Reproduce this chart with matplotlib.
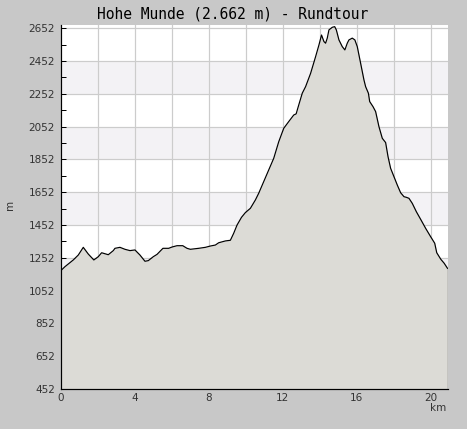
import matplotlib
matplotlib.use("Agg")
import matplotlib.pyplot as plt
from matplotlib.ticker import MultipleLocator, FixedLocator

title = "Hohe Munde (2.662 m) - Rundtour"
dist_km = [0, 0.24, 0.69, 0.96, 1.23, 1.5, 1.8, 2.04, 2.22, 2.58, 2.85, 2.94, 3.21, 3.48,
           3.75, 4.02, 4.29, 4.56, 4.74, 5.01, 5.21, 5.53, 5.84, 6.02, 6.29, 6.6, 6.83,
           7.01, 7.46, 7.82, 8.09, 8.36, 8.54, 8.9, 9.17, 9.35, 9.53, 9.77, 9.98, 10.25,
           10.52, 10.7, 10.97, 11.24, 11.51, 11.78, 12.05, 12.32, 12.59, 12.72, 12.86,
           13.05, 13.23, 13.5, 13.77, 13.95, 14.09, 14.22, 14.31, 14.4, 14.49, 14.67,
           14.8, 14.89, 15.03, 15.21, 15.35, 15.48, 15.57, 15.75, 15.89, 16.02, 16.2,
           16.38, 16.47, 16.62, 16.69, 16.87, 17.01, 17.19, 17.37, 17.55, 17.68, 17.82,
           18.0, 18.18, 18.36, 18.54, 18.67, 18.81, 18.99, 19.21, 19.44, 19.71, 19.98,
           20.2, 20.31, 20.53, 20.71, 20.89]
elev_m = [1172, 1198, 1239, 1269, 1316, 1275, 1239, 1259, 1283, 1271, 1296, 1310, 1316, 1304,
          1296, 1300, 1269, 1231, 1235, 1259, 1273, 1310, 1310, 1318, 1326, 1326, 1310,
          1304, 1310, 1316, 1324, 1330, 1344, 1355, 1359, 1402, 1452, 1499, 1528, 1554,
          1605, 1646, 1717, 1788, 1859, 1960, 2042, 2083, 2123, 2130, 2184,
          2256, 2296, 2377, 2479, 2550, 2611, 2571, 2561, 2592, 2642, 2658,
          2662, 2642, 2581, 2540, 2520, 2561, 2581, 2592, 2581, 2540, 2439,
          2337, 2296, 2256, 2205, 2174, 2144, 2052, 1981, 1955, 1869, 1798,
          1747, 1696, 1649, 1625, 1621, 1615, 1584, 1533, 1487, 1432, 1381,
          1341, 1283, 1243, 1219, 1188]
y_ticks = [452, 652, 852, 1052, 1252, 1452, 1652, 1852, 2052, 2252, 2452, 2652]
y_minor_ticks = [552, 752, 952, 1152, 1352, 1552, 1752, 1952, 2152, 2352, 2552]
x_label_ticks = [0, 4, 8, 12, 16, 20]

W, H = 467, 429
PX = 0.72  # one pixel in points
fig = plt.figure(figsize=(W / 100, H / 100), dpi=100, facecolor="#c8c8c8")
ax = fig.add_axes([60.5 / W, (H - 389) / H, (447.5 - 60.5) / W, (389 - 25) / H])
ax.set_facecolor("white")

ymin, ymax = 452, 2672
ax.set_xlim(0, dist_km[-1])
ax.set_ylim(ymin, ymax)

# alternating bands
for i in range(len(y_ticks) - 1):
    if (len(y_ticks) - 2 - i) % 2 == 1:
        ax.axhspan(y_ticks[i], y_ticks[i + 1], color="#f3f2f5", zorder=0, lw=0)

ax.set_xticks(x_label_ticks, labels=[str(v) for v in x_label_ticks])
ax.xaxis.set_minor_locator(MultipleLocator(1))
ax.set_yticks(y_ticks, labels=[str(v) for v in y_ticks])
ax.yaxis.set_minor_locator(FixedLocator(y_minor_ticks))

# grid lines
for gx in range(2, int(dist_km[-1]) + 1, 2):
    ax.axvline(gx, color="#cccccc", lw=PX * 1.2, zorder=1)
for gy in y_ticks[1:]:
    ax.axhline(gy, color="#cccccc", lw=PX * 1.2, zorder=1)

ax.fill_between(dist_km, elev_m, ymin, color="#dcdbd6", zorder=2, lw=0)
ax.plot(dist_km, elev_m, color="black", lw=PX * 1.2, zorder=3)
ax.vlines(dist_km[-1], ymin, elev_m[-1], color="black", lw=PX * 1.2, zorder=3)

for s in ["top", "right"]:
    ax.spines[s].set_visible(False)
for s in ["left", "bottom"]:
    ax.spines[s].set_color("black")
    ax.spines[s].set_linewidth(PX * 1.2)
    ax.spines[s].set_zorder(4)

ax.tick_params(which="both", direction="in", length=5 * PX, width=PX, color="black",
               labelsize=7.5, labelcolor="#333333")
ax.tick_params(axis="x", pad=3)
ax.tick_params(axis="y", pad=4)

fig.text(233 / W, 1 - 14 / H, title, ha="center", va="center",
         family="DejaVu Sans Mono", fontsize=10.5, color="black")
fig.text(10 / W, 1 - 205 / H, "m", rotation=90, ha="center", va="center",
         fontsize=7.5, color="#333333")
fig.text(438 / W, 1 - 408 / H, "km", ha="center", va="center",
         fontsize=7.5, color="#333333")

fig.savefig("out.png", dpi=100, facecolor=fig.get_facecolor())
